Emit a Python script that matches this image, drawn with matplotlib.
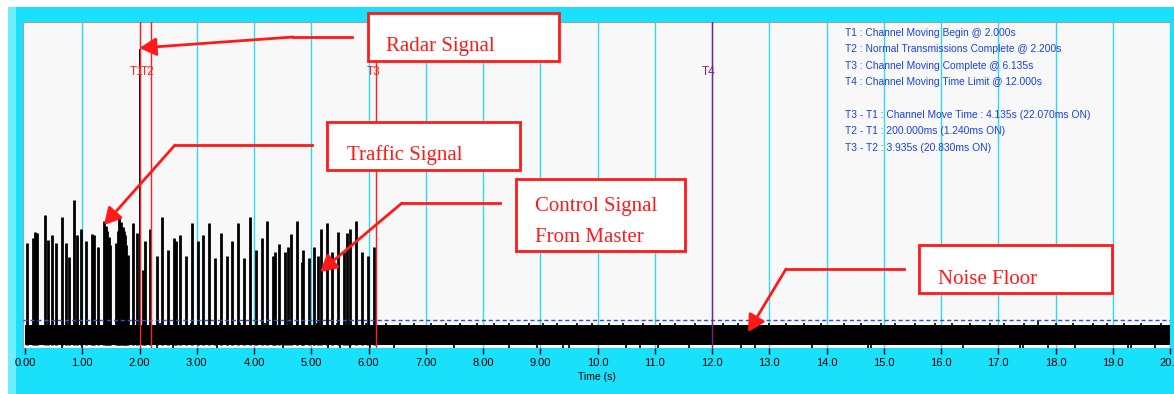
import matplotlib.pyplot as plt
from matplotlib.patches import Rectangle, FancyArrowPatch
import numpy as np

W, H = 1174, 394

# spikes before the channel move (time s, level)
traffic_t = [0.03, 0.134, 0.175, 0.215, 0.349, 0.407, 0.477, 0.541, 0.641, 0.711,
             0.769, 0.861, 0.914, 0.973, 1.06, 1.165, 1.205, 1.28, 1.38, 1.41,
             1.43, 1.46, 1.485, 1.59, 1.62, 1.647, 1.68, 1.706, 1.73, 1.747, 1.77,
             1.8, 1.89, 1.95, 2.056, 2.096, 2.183]
traffic_v = [32.2, 33.7, 35.6, 35.3, 40.8, 33.1, 34.7, 32.2, 40.2, 32.2,
             27.9, 45.4, 34.7, 36.5, 32.8, 35.0, 34.7, 31.0, 39.0, 37.5,
             36.0, 34.0, 31.6, 32.2, 36.0, 39.9, 38.5, 37.1, 36.0, 34.7, 31.5,
             28.5, 38.3, 35.3, 24.0, 32.8, 36.5]

radar_t = [2.0]
radar_v = [91.7]

# control signal bursts from master between T2 and T3
control_t = [2.30, 2.398, 2.503, 2.603, 2.638, 2.707, 2.807, 2.912, 3.017, 3.114,
             3.214, 3.319, 3.424, 3.523, 3.621, 3.726, 3.83, 3.93, 4.03, 4.134,
             4.232, 4.337, 4.367, 4.437, 4.541, 4.599, 4.646, 4.746, 4.844, 4.861,
             4.961, 5.053, 5.123, 5.165, 5.27, 5.368, 5.472, 5.572, 5.619, 5.677,
             5.782, 5.881, 5.986, 6.096]
control_v = [28.2, 40.2, 30.1, 33.7, 32.8, 34.7, 28.2, 38.3, 32.8, 34.7,
             38.3, 27.6, 35.3, 28.2, 32.8, 38.3, 27.6, 40.2, 30.1, 33.7,
             39.0, 28.2, 29.4, 31.9, 29.4, 31.0, 35.0, 39.0, 26.4, 30.1,
             27.6, 31.0, 28.2, 36.5, 38.3, 29.4, 35.6, 29.4, 35.3, 36.5,
             39.0, 29.4, 28.2, 31.0]

noise_lo, noise_hi = 0.9, 7.0
noise_up_t = [0.15, 0.42, 0.9, 1.3, 2.35, 2.9, 3.4, 3.75, 4.2, 4.65, 5.1, 5.45,
              5.95, 6.3, 6.55, 6.8, 7.1, 7.35, 7.6, 7.9, 8.2, 8.45, 8.8, 9.05,
              9.3, 9.65, 9.9, 10.2, 10.45, 10.8, 11.1, 11.35, 11.7, 12.2, 12.45,
              12.7, 13.0, 13.3, 13.6, 13.9, 14.3, 14.6, 14.95, 15.2, 15.55, 15.9,
              16.2, 16.5, 16.85, 17.1, 17.45, 17.69, 18.0, 18.3, 18.65, 18.9,
              19.2, 19.5, 19.85]
noise_up_v = [7.7] * 51 + [8.6] + [7.7] * 7
noise_dn_t = [0.65, 1.0, 2.3, 2.58, 3.35, 4.5, 5.3, 5.5, 5.68, 6.02, 6.45, 7.5,
              8.45, 8.95, 9.4, 9.5, 10.5, 10.75, 11.05, 11.6, 12.5, 12.75, 13.74,
              14.73, 14.78, 16.38, 17.38, 17.43, 17.87, 18.34, 19.27, 19.32, 19.74]
threshold = 8.6

marker_names = ['T1', 'T2', 'T3', 'T4']
marker_t = [2.0, 2.2, 6.135, 12.0]
marker_c = ['#ff2020', '#ff2020', '#ff2020', '#8a1a8a']

info_lines = ['T1 : Channel Moving Begin @ 2.000s',
              'T2 : Normal Transmissions Complete @ 2.200s',
              'T3 : Channel Moving Complete @ 6.135s',
              'T4 : Channel Moving Time Limit @ 12.000s',
              '',
              'T3 - T1 : Channel Move Time : 4.135s (22.070ms ON)',
              'T2 - T1 : 200.000ms (1.240ms ON)',
              'T3 - T2 : 3.935s (20.830ms ON)']

xticks = list(range(0, 21))
xlabels = ['%.2f' % x if x < 10 else '%.1f' % x for x in xticks]

fig = plt.figure(figsize=(W / 100, H / 100), dpi=100)
fig.patch.set_facecolor('white')


def fp(px, py):
    return (px / W, 1 - py / H)


# cyan frame
fig.patches.append(Rectangle(fp(8, 394), (W - 8) / W, 387 / H, transform=fig.transFigure,
                             facecolor='#19e1fc', edgecolor='none', zorder=-10))
fig.patches.append(Rectangle(fp(8, 394), 8 / W, 387 / H, transform=fig.transFigure,
                             facecolor='#6eedfd', edgecolor='none', zorder=-9))

ax = fig.add_axes([23 / W, 1 - 348 / H, 1147 / W, 326 / H])
ax.set_zorder(1)
ax.set_facecolor('#f8f8f8')
ax.set_xlim(-0.035, 20.0)
ax.set_ylim(0, 100)

for x in xticks[1:]:
    ax.axvline(x, color='#2ed8f6', lw=1, zorder=1)

# noise floor
ax.fill_between([0, 20], noise_lo, noise_hi, color='black', lw=0, zorder=2)
ax.vlines(noise_up_t, noise_hi - 0.5, noise_up_v, color='black', lw=1.2, zorder=2)
ax.vlines(noise_dn_t, 0, noise_lo + 0.5, color='black', lw=1.2, zorder=2)

ax.vlines(traffic_t, noise_lo, traffic_v, color='black', lw=2.0, zorder=3)
ax.vlines(control_t, noise_lo, control_v, color='black', lw=2.0, zorder=3)
ax.vlines(radar_t, noise_lo, radar_v, color='black', lw=1.4, zorder=3)

ax.axhline(threshold, color='#3050d0', lw=1, ls=(0, (3, 2)), zorder=4)

for name, t, c in zip(marker_names, marker_t, marker_c):
    ax.axvline(t, color=c, lw=1, zorder=5)
    ax.text(t - 0.05, 84.7, name, color=c, fontsize=8.5, ha='center', va='center',
            family='Liberation Sans', zorder=6)

for i, line in enumerate(info_lines):
    fig.text(845 / W, 1 - (33 + i * 16.4) / H, line, color='#1a44d8', fontsize=7.4,
             family='Liberation Sans', ha='left', va='center', zorder=5)

for s in ['right', 'bottom']:
    ax.spines[s].set_visible(False)
for s in ['top', 'left']:
    ax.spines[s].set_color('#a0a0a0')
ax.set_yticks([])
ax.set_xticks(xticks)
ax.set_xticklabels(xlabels, fontsize=8, family='Liberation Sans')
ax.tick_params(axis='x', direction='out', length=4, width=1, pad=3)
ax.set_xlabel('Time (s)', fontsize=7.5, family='Liberation Sans', labelpad=3)

# callout boxes: (x0, y0, x1, y1) in pixels, text lines
boxes = [((368, 13, 559, 61), ['Radar Signal']),
         ((327, 122, 520, 170), ['Traffic Signal']),
         ((516, 179, 685, 251), ['Control Signal', 'From Master']),
         ((919, 245, 1112, 293), ['Noise Floor'])]
text_pos = [[(386, 46)], [(347, 155)], [(535, 207), (535, 238)], [(938, 279)]]
for (b, lines), tps in zip(boxes, text_pos):
    x0, y0, x1, y1 = b
    fig.patches.append(Rectangle(fp(x0, y1), (x1 - x0) / W, (y1 - y0) / H,
                                 transform=fig.transFigure, facecolor='white',
                                 edgecolor='#ff1a1a', lw=2, zorder=10))
    for txt, (tx, ty) in zip(lines, tps):
        fig.text(tx / W, 1 - ty / H, txt, color='#ff1a1a', fontsize=15,
                 family='Liberation Serif', ha='left', va='center', zorder=11)

# arrows: start, bend, tip in pixels
arrows = [((352, 37), (293, 37), (139.5, 48)),
          ((312, 145), (175, 145), (104, 225)),
          ((500, 203), (402, 203), (320, 272)),
          ((904, 269), (786, 269), (748, 332))]
for a, b, c in arrows:
    fig.lines.append(plt.Line2D([a[0] / W, b[0] / W], [1 - a[1] / H, 1 - b[1] / H],
                                transform=fig.transFigure, color='#ff1a1a', lw=2, zorder=10))
    fig.patches.append(FancyArrowPatch(
        fp(*b), fp(*c), transform=fig.transFigure,
        arrowstyle='-|>,head_length=10,head_width=5.5', color='#ff1a1a', lw=2,
        shrinkA=0, shrinkB=0, zorder=10))

fig.savefig('out.png', dpi=100)
